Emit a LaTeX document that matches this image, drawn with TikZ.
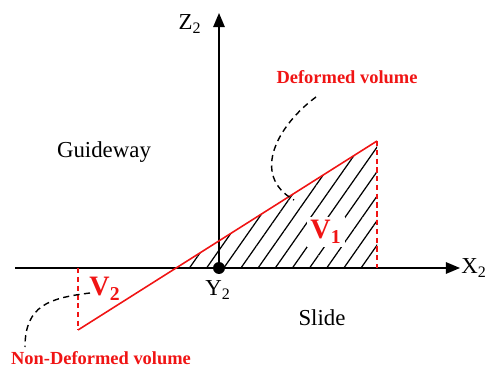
\documentclass[tikz,border=0pt]{standalone}
\usepackage{fontspec}
\setmainfont{Liberation Serif}
\usetikzlibrary{arrows.meta, patterns.meta}
\definecolor{VR}{RGB}{240,20,20}
\definecolor{DG}{RGB}{0,0,0}

\begin{document}
\begin{tikzpicture}[
  x=0.02cm, y=-0.02cm,
  axis/.style={line width=0.9pt, draw=DG, -{Triangle[length=8pt,width=6.5pt]}},
  lbl/.style={font=\fontsize{13}{15}\selectfont, text=DG},
  vol/.style={text=VR, font=\fontsize{16}{18}\selectfont\bfseries, inner sep=2pt},
  note/.style={text=VR, font=\fontsize{10.5}{12}\selectfont\bfseries},
  edge/.style={draw=VR, line width=0.9pt},
  guide/.style={draw=VR, line width=0.9pt, dash pattern=on 3pt off 2pt},
  lead/.style={draw=DG, line width=0.8pt, dash pattern=on 3.5pt off 2.5pt}
]
\useasboundingbox (0,0) rectangle (489,367);

% Key points
\coordinate (xs)   at (15,268);
\coordinate (xe)   at (460,268);
\coordinate (org)  at (219,268);
\coordinate (ze)   at (219,13);
\coordinate (cut)  at (176,268);
\coordinate (tip)  at (377,141);
\coordinate (foot) at (377,268);
\coordinate (lo)   at (78,330);
\coordinate (lotop) at (78,268);

% Hatched deformed volume
\fill[pattern={Lines[angle=55,distance=8pt,line width=0.7pt]}]
  (cut) -- (tip) -- (foot) -- cycle;

% Axes
\draw[axis] (xs) -- (xe);
\draw[axis] (org) -- (ze);
\node[circle, fill=DG, inner sep=0pt, minimum size=6.8pt] (dot) at (org) {};

% Slide surface
\draw[edge] (lo) -- (tip);
\draw[guide] (tip) -- (foot);
\draw[guide] (lotop) -- (lo);

% Labels
\node[lbl] (xl) at (474,268) {X\textsubscript{2}};
\node[lbl] (zl) at (190,24)  {Z\textsubscript{2}};
\node[lbl] (yl) at (218,290) {Y\textsubscript{2}};
\node[lbl] (gw) at (104,152) {Guideway};
\node[lbl] (sl) at (322,318) {Slide};
\node[vol, fill=white] (v1) at (326,232) {V\textsubscript{1}};
\node[vol] (v2) at (105,289) {V\textsubscript{2}};
\node[note] (dv)  at (347,77)  {Deformed volume};
\node[note] (ndv) at (101,358) {Non-Deformed volume};

% Leaders
\coordinate (dvs) at (316,97);
\coordinate (dve) at (294,200);
\coordinate (nds) at (90,293);
\coordinate (nde) at (25,347);
\draw[lead] (dvs) .. controls (278,125) and (250,175) .. (dve);
\draw[lead] (nds) .. controls (50,298) and (25,305) .. (nde);
\end{tikzpicture}
\end{document}
